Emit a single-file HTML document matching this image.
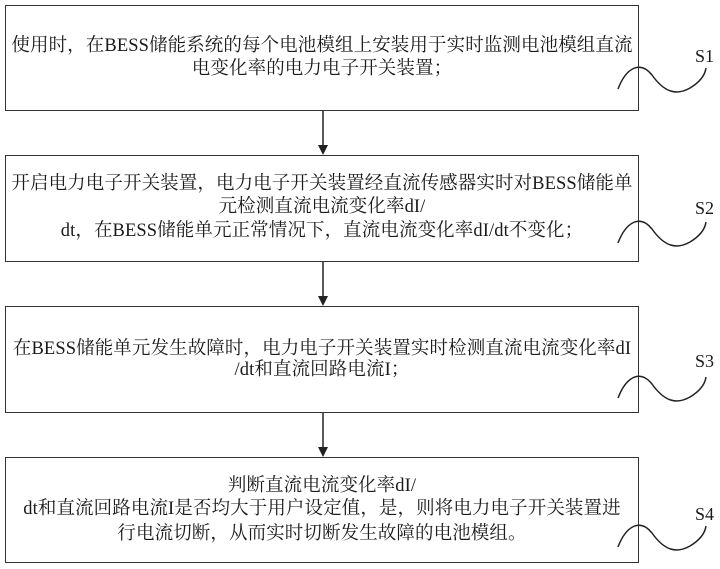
<!DOCTYPE html>
<html><head><meta charset="utf-8"><style>
html,body{margin:0;padding:0;background:#fff;}
body{width:720px;height:569px;position:relative;overflow:hidden;font-family:"Liberation Serif","Noto Serif CJK SC",serif;color:#1a1a1a;}
.box{position:absolute;left:5px;width:634px;border:1.5px solid #333;box-sizing:border-box;}
.t{position:absolute;left:5px;width:634px;text-align:center;font-size:18.5px;white-space:nowrap;line-height:23px;letter-spacing:0.1px;}
.s{position:absolute;left:695px;font-size:18px;}
</style></head><body>
<div class="box" style="top:5px;height:106px"></div>
<div class="box" style="top:155px;height:107px"></div>
<div class="box" style="top:306px;height:107px"></div>
<div class="box" style="top:457px;height:106px"></div>

<div class="t" style="top:35px">使用时，在BESS储能系统的每个电池模组上安装用于实时监测电池模组直流</div>
<div class="t" style="top:58px">电变化率的电力电子开关装置；</div>

<div class="t" style="top:173px">开启电力电子开关装置，电力电子开关装置经直流传感器实时对BESS储能单</div>
<div class="t" style="top:196px">元检测直流电流变化率dI/</div>
<div class="t" style="top:220px">dt，在BESS储能单元正常情况下，直流电流变化率dI/dt不变化；</div>

<div class="t" style="top:338px">在BESS储能单元发生故障时，电力电子开关装置实时检测直流电流变化率dI</div>
<div class="t" style="top:359px">/dt和直流回路电流I；</div>

<div class="t" style="top:475px">判断直流电流变化率dI/</div>
<div class="t" style="top:498px">dt和直流回路电流I是否均大于用户设定值，是，则将电力电子开关装置进</div>
<div class="t" style="top:523px">行电流切断，从而实时切断发生故障的电池模组。</div>

<div class="s" style="top:46px">S1</div>
<div class="s" style="top:198px">S2</div>
<div class="s" style="top:351px">S3</div>
<div class="s" style="top:504px">S4</div>

<svg width="720" height="569" style="position:absolute;left:0;top:0">
<g stroke="#222" stroke-width="1.5" fill="none">
<path d="M618 89 C626 68 640 60 652 75 C664 92 676 96 690 88 C700 82 705 75 706 68"/>
<path d="M618 243 C626 222 640 214 652 229 C664 246 676 250 690 242 C700 236 705 229 706 222"/>
<path d="M618 398 C626 377 640 369 652 384 C664 401 676 405 690 397 C700 391 705 384 706 377"/>
<path d="M618 547 C626 526 640 518 652 533 C664 550 676 554 690 546 C700 540 705 533 706 526"/>
<line x1="323" y1="111" x2="323" y2="146"/>
<line x1="323" y1="262" x2="323" y2="297"/>
<line x1="323" y1="413" x2="323" y2="448"/>
</g>
<g fill="#222">
<polygon points="318,145 328,145 323,155"/>
<polygon points="318,296 328,296 323,306"/>
<polygon points="318,447 328,447 323,457"/>
</g>
</svg>
</body></html>
